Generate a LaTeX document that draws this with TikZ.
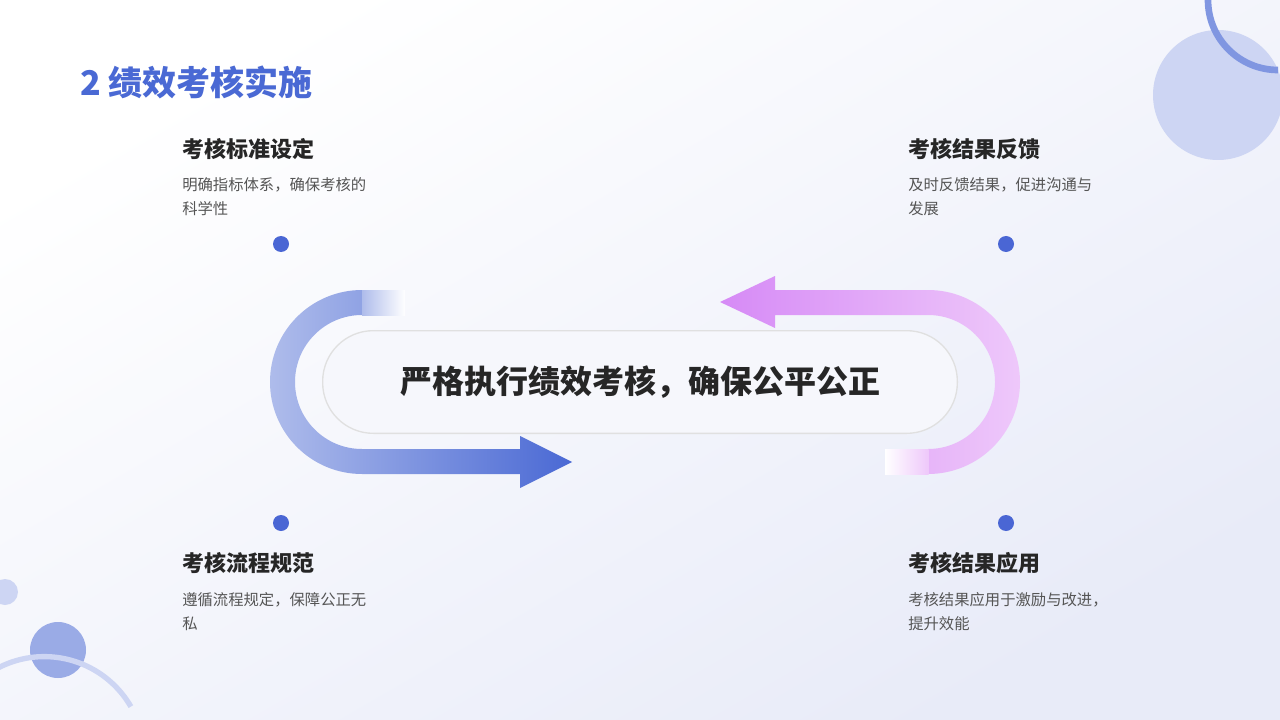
\documentclass[tikz,border=0pt]{standalone}
\usepackage{fontspec}
\setmainfont{Noto Sans CJK SC}
\usetikzlibrary{positioning}
\definecolor{titleblue}{HTML}{4A69D4}
\definecolor{dotblue}{HTML}{4A66D4}
\definecolor{softblue}{HTML}{9AABE6}
\definecolor{paleblue}{HTML}{CDD5F3}
\definecolor{violet}{HTML}{D68AF6}
\definecolor{palepink}{HTML}{EEC8FA}
\definecolor{textgray}{HTML}{555555}
\definecolor{bgend}{HTML}{E8EBF8}
\tikzset{
  headtext/.style={anchor=north west,inner sep=0pt,font=\fontsize{16.5}{20}\selectfont\bfseries,text=black!85},
  desctext/.style={anchor=north west,inner sep=0pt,align=left,font=\fontsize{11.5}{18}\selectfont,text=textgray},
  stepdot/.style={circle,fill=dotblue,minimum size=12pt,inner sep=0pt}
}
\begin{document}
\begin{tikzpicture}[x=0.75pt,y=0.75pt,yscale=-1]
\useasboundingbox (0,0) rectangle (1280,720);
% background
\shade[top color=white,bottom color=bgend,shading angle=30] (0,0) rectangle (1280,720);
% decorations
\fill[paleblue] (1218,95) circle (65);
\draw[line width=5pt,color=titleblue!70] (1208,0) arc[start angle=180,end angle=90,radius=70];
\fill[paleblue] (5,592) circle (13);
\fill[softblue] (58,650) circle (28);
\draw[line width=4pt,color=paleblue] (-20,680) arc[start angle=230,end angle=330,radius=100];
% title
\node[anchor=west,inner sep=0pt,font=\fontsize{25.5}{30}\selectfont\bfseries,text=titleblue] (title) at (80,82) {2 绩效考核实施};
% left arrow
\shade[left color=softblue!80,right color=titleblue] (362,290) arc[start angle=270,end angle=90,radius=92] -- (520,474) -- (520,488) -- (572,462) -- (520,436) -- (520,449) -- (362,449) arc[start angle=90,end angle=270,radius=67] -- cycle;
\shade[left color=softblue!80,right color=white] (362,290) rectangle (405,315);
% right arrow
\shade[left color=violet,right color=palepink] (928,290) arc[start angle=270,end angle=450,radius=92] -- (928,449) arc[start angle=90,end angle=-90,radius=67] -- (775,315) -- (775,328) -- (720,302) -- (775,276) -- (775,290) -- cycle;
\shade[left color=white,right color=palepink] (885,449) rectangle (928.5,474);
% center box
\node[draw=black!12,line width=1pt,fill=white!60!bgend,rounded corners=38pt,minimum width=476pt,minimum height=77pt] (core) at (640,382) {};
\node[font=\fontsize{24}{28}\selectfont\bfseries,text=black!85] (coretext) at (640,382) {严格执行绩效考核，确保公平公正};
% dots
\node[stepdot] (d1) at (281,244) {};
\node[stepdot] (d2) at (1006,244) {};
\node[stepdot] (d3) at (281,523) {};
\node[stepdot] (d4) at (1006,523) {};
% labels
\node[headtext] (h1) at (182,138) {考核标准设定};
\node[desctext] (t1) at (182,177) {明确指标体系，确保考核的\\科学性};
\node[headtext] (h2) at (908,138) {考核结果反馈};
\node[desctext] (t2) at (908,177) {及时反馈结果，促进沟通与\\发展};
\node[headtext] (h3) at (182,552) {考核流程规范};
\node[desctext] (t3) at (182,592) {遵循流程规定，保障公正无\\私};
\node[headtext] (h4) at (908,552) {考核结果应用};
\node[desctext] (t4) at (908,592) {考核结果应用于激励与改进，\\提升效能};
\end{tikzpicture}
\end{document}
